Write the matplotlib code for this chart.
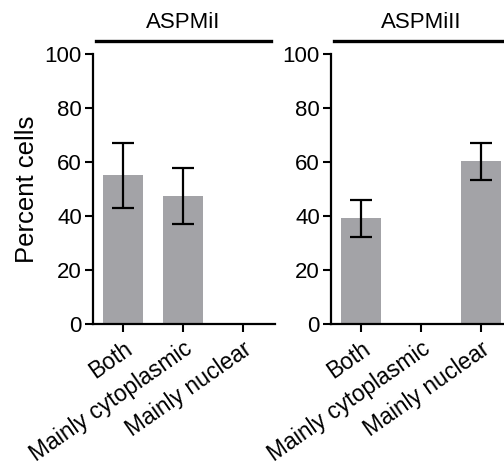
import matplotlib
matplotlib.use("Agg")
import matplotlib.pyplot as plt
from matplotlib.transforms import ScaledTranslation

plt.rcParams['font.family'] = ['Liberation Sans', 'DejaVu Sans']

categories = ["Both", "Mainly cytoplasmic", "Mainly nuclear"]
titles = ["ASPMiI", "ASPMiII"]
means_i = [55.0, 47.5, 0.0]
err_i = [12.0, 10.3, 0.0]
means_ii = [39.2, 0.0, 60.2]
err_ii = [6.8, 0.0, 6.9]
yticks = [0, 20, 40, 60, 80, 100]

bar_color = "#a3a3a7"

fig = plt.figure(figsize=(5.04, 4.74), dpi=100)
ax1 = fig.add_axes([0.1845, 0.3165, 0.361, 0.5696])
ax2 = fig.add_axes([0.6567, 0.3165, 0.361, 0.5696])

# shift rotated tick labels a bit right/down like the original
shift = ScaledTranslation(15 / 100, -8 / 100, fig.dpi_scale_trans)

for ax, means, errs, title in [(ax1, means_i, err_i, titles[0]),
                               (ax2, means_ii, err_ii, titles[1])]:
    x = range(len(categories))
    ax.bar(x, means, width=0.667, color=bar_color)
    for xi, m, e in zip(x, means, errs):
        if m > 0:
            ax.errorbar(xi, m, yerr=e, fmt='none', ecolor='black',
                        elinewidth=1.6, capsize=8, capthick=1.6)
    ax.set_xlim(-0.5, 2.53)
    ax.set_ylim(0, 100)
    ax.set_yticks(yticks)
    ax.set_xticks(list(x))
    ax.set_xticklabels(categories, rotation=35, ha='right',
                       rotation_mode='anchor', fontsize=16.5)
    for lab in ax.get_xticklabels():
        lab.set_transform(lab.get_transform() + shift)
    ax.tick_params(axis='y', labelsize=16, width=1.5, length=6, pad=2)
    ax.tick_params(axis='x', width=1.5, length=6)
    for s in ['top', 'right']:
        ax.spines[s].set_visible(False)
    for s in ['left', 'bottom']:
        ax.spines[s].set_linewidth(1.6)
    ax.plot([0.016, 1.2], [1.049, 1.049], transform=ax.transAxes,
            color='black', lw=2.4, clip_on=False)
    ax.text(0.495, 1.118, title, transform=ax.transAxes, ha='center',
            va='center', fontsize=16)

# left panel line stops short of the right edge
ax1.lines[-1].set_xdata([0.016, 0.978])

ax1.set_ylabel("Percent cells", fontsize=18.5, labelpad=4)

fig.savefig("out.png", dpi=100)
